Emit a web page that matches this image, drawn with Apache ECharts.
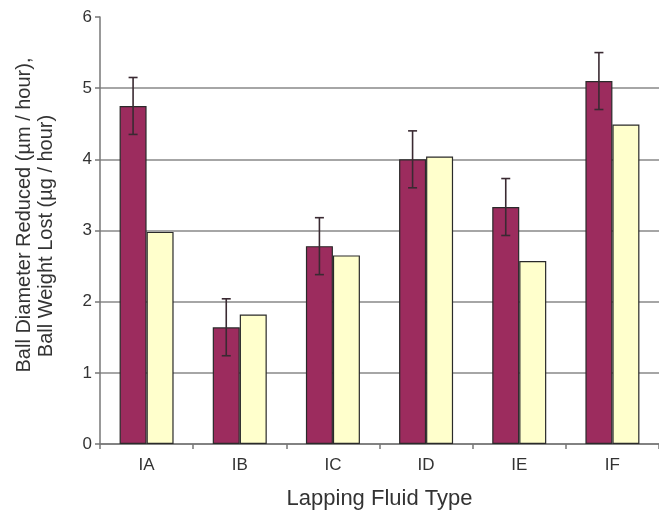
<!DOCTYPE html>
<html>
<head>
<meta charset="utf-8">
<script src="https://cdn.jsdelivr.net/npm/echarts@6/dist/echarts.min.js"></script>
<style>html,body{margin:0;padding:0;background:#fff;}#c{width:659px;height:515px;}</style>
</head>
<body>
<div id="c"></div>
<script>
var categories = ['IA', 'IB', 'IC', 'ID', 'IE', 'IF'];
var diameterReduced = [4.75, 1.64, 2.78, 4.00, 3.33, 5.10];
var diameterError = [0.40, 0.40, 0.40, 0.40, 0.40, 0.40];
var weightLost = [2.98, 1.82, 2.65, 4.04, 2.57, 4.49];
var yTicks = [0, 1, 2, 3, 4, 5, 6];
var yTitleLines = ['Ball Diameter Reduced (\u00b5m / hour),', 'Ball Weight Lost (\u00b5g / hour)'];
var xTitle = 'Lapping Fluid Type';

var BAR_W = 27;
var FONT = 'Liberation Sans, Arial, sans-serif';
var chart = echarts.init(document.getElementById('c'), null, {renderer: 'canvas'});

var errData = categories.map(function (c, i) {
  return [i, diameterReduced[i] - diameterError[i], diameterReduced[i] + diameterError[i]];
});

var option = {
  backgroundColor: '#ffffff',
  animation: false,
  textStyle: {fontFamily: FONT},
  grid: {left: 100, top: 17, width: 570, height: 432, containLabel: false},
  graphic: [
    {type: 'text', x: 24, y: 215, rotation: Math.PI / 2,
      style: {text: yTitleLines[0], font: '20px ' + FONT, fill: '#333', textAlign: 'center', textVerticalAlign: 'middle'}},
    {type: 'text', x: 46, y: 236, rotation: Math.PI / 2,
      style: {text: yTitleLines[1], font: '20px ' + FONT, fill: '#333', textAlign: 'center', textVerticalAlign: 'middle'}}
  ],
  xAxis: {
    type: 'category',
    data: categories,
    name: xTitle,
    nameLocation: 'middle',
    nameGap: 44,
    nameTextStyle: {fontSize: 22, color: '#333'},
    axisLine: {show: true, lineStyle: {color: '#777', width: 1.5}},
    axisTick: {show: true, length: 5, lineStyle: {color: '#777', width: 1.5}},
    axisLabel: {fontSize: 17, color: '#333', margin: 13},
    splitLine: {show: false}
  },
  yAxis: {
    type: 'value',
    min: yTicks[0],
    max: yTicks[yTicks.length - 1],
    interval: 1,
    axisLine: {show: true, lineStyle: {color: '#777', width: 1.5}},
    axisTick: {show: true, length: 5, lineStyle: {color: '#777', width: 1.5}},
    axisLabel: {fontSize: 17, color: '#333', margin: 8},
    splitLine: {show: true, lineStyle: {color: ['#888', '#888', '#888', '#888', '#888', '#888', 'rgba(0,0,0,0)'], width: 1.5}}
  },
  series: [
    {
      name: 'Ball Diameter Reduced',
      type: 'bar',
      data: diameterReduced,
      barWidth: BAR_W,
      barGap: '0%',
      itemStyle: {color: '#9C2C5E', borderColor: '#2a2a2a', borderWidth: 1.2}
    },
    {
      name: 'Ball Weight Lost',
      type: 'bar',
      data: weightLost,
      barWidth: BAR_W,
      barGap: '0%',
      itemStyle: {color: '#FFFFCC', borderColor: '#2a2a2a', borderWidth: 1.2}
    },
    {
      name: 'error',
      type: 'custom',
      data: errData,
      z: 10,
      renderItem: function (params, api) {
        var idx = api.value(0);
        var lo = api.coord([idx, api.value(1)]);
        var hi = api.coord([idx, api.value(2)]);
        var x = lo[0] - BAR_W / 2;
        var cap = 4.5;
        var style = {stroke: '#3a2a32', lineWidth: 1.6};
        return {
          type: 'group',
          children: [
            {type: 'line', shape: {x1: x, y1: lo[1], x2: x, y2: hi[1]}, style: style},
            {type: 'line', shape: {x1: x - cap, y1: lo[1], x2: x + cap, y2: lo[1]}, style: style},
            {type: 'line', shape: {x1: x - cap, y1: hi[1], x2: x + cap, y2: hi[1]}, style: style}
          ]
        };
      }
    }
  ]
};
chart.setOption(option);
</script>
</body>
</html>
